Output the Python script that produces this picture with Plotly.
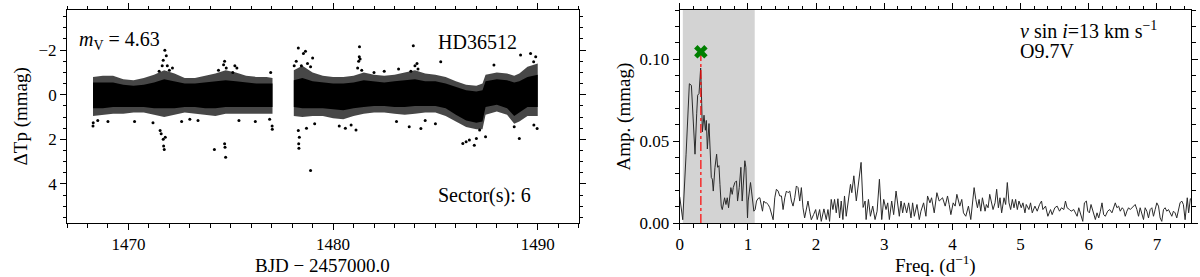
import plotly.graph_objects as go

# ---------------- Light curve (left panel) ----------------
# dense band: time (BJD-2457000), core top/bottom, fringe top/bottom (mmag)
seg1_t = [1468.27, 1468.75, 1469.25, 1469.75, 1470.25, 1470.75, 1471.25, 1471.75, 1472.25,
          1472.75, 1473.25, 1473.75, 1474.25, 1474.75, 1475.25, 1475.75, 1476.25, 1476.75, 1477.04]
seg1_core_top = [-0.55, -0.55, -0.55, -0.45, -0.40, -0.45, -0.55, -0.70, -0.60,
                 -0.50, -0.50, -0.55, -0.60, -0.65, -0.60, -0.55, -0.50, -0.50, -0.50]
seg1_core_bot = [0.60, 0.60, 0.55, 0.55, 0.55, 0.55, 0.60, 0.60, 0.60,
                 0.55, 0.55, 0.60, 0.60, 0.55, 0.55, 0.55, 0.55, 0.55, 0.55]
seg1_fr_top = [-0.80, -0.85, -0.85, -0.70, -0.65, -0.75, -0.90, -1.10, -0.95,
               -0.75, -0.75, -0.85, -0.95, -1.10, -1.00, -0.85, -0.80, -0.80, -0.75]
seg1_fr_bot = [0.95, 0.90, 0.85, 0.85, 0.80, 0.80, 0.90, 1.00, 0.90,
               0.80, 0.85, 0.90, 0.95, 0.85, 0.85, 0.85, 0.85, 0.85, 0.85]

seg2_t = [1478.08, 1478.5, 1479.0, 1479.5, 1480.0, 1480.5, 1481.0, 1481.5, 1482.0, 1482.5,
          1483.0, 1483.5, 1484.0, 1484.5, 1485.0, 1485.5, 1486.0, 1486.5, 1487.0, 1487.3,
          1487.45, 1488.0, 1488.5, 1488.85, 1489.1, 1489.5, 1490.0]
seg2_core_top = [-0.65, -0.75, -0.60, -0.55, -0.50, -0.50, -0.55, -0.65, -0.60, -0.55,
                 -0.60, -0.65, -0.70, -0.60, -0.60, -0.50, -0.35, -0.20, -0.15, -0.20,
                 -0.60, -0.70, -0.65, -0.55, -0.60, -0.80, -0.90]
seg2_core_bot = [0.55, 0.60, 0.60, 0.60, 0.65, 0.70, 0.60, 0.55, 0.50, 0.50,
                 0.55, 0.55, 0.50, 0.50, 0.50, 0.60, 0.90, 1.15, 1.25, 1.20,
                 0.55, 0.45, 0.60, 0.95, 0.80, 0.55, 0.55]
seg2_fr_top = [-1.10, -1.30, -1.00, -0.85, -0.80, -0.80, -0.85, -1.00, -0.90, -0.85,
               -0.90, -1.00, -1.10, -0.95, -0.90, -0.80, -0.60, -0.45, -0.40, -0.50,
               -0.90, -1.00, -0.95, -0.85, -0.95, -1.25, -1.40]
seg2_fr_bot = [0.95, 1.00, 0.95, 0.95, 1.05, 1.10, 0.95, 0.85, 0.80, 0.80,
               0.85, 0.90, 0.85, 0.80, 0.80, 0.95, 1.20, 1.45, 1.55, 1.55,
               0.90, 0.75, 0.90, 1.30, 1.20, 0.95, 0.95]

# individual scattered points
out_t = [1468.27, 1468.28, 1468.5, 1469.0, 1470.3, 1471.2, 1471.5, 1471.55, 1471.6, 1471.65,
         1471.7, 1471.7, 1471.72, 1471.75, 1471.78, 1471.8, 1471.85, 1471.9, 1472.0, 1472.15,
         1472.6, 1473.0, 1473.4, 1474.2, 1474.4, 1474.65, 1474.7, 1474.7, 1474.72, 1474.75,
         1474.78, 1475.1, 1475.2, 1475.3, 1475.4, 1476.2, 1476.9, 1476.95, 1477.02, 1477.03,
         1478.1, 1478.2, 1478.3, 1478.3, 1478.32, 1478.33, 1478.35, 1478.45, 1478.55, 1478.65,
         1478.7, 1478.75, 1478.9, 1478.9, 1479.0, 1479.1, 1480.3, 1480.6, 1480.88, 1481.12,
         1481.2, 1481.25, 1481.28, 1481.29, 1481.32, 1481.4, 1482.0, 1482.5, 1483.1, 1483.2,
         1483.72, 1483.8, 1483.92, 1484.0, 1484.1, 1484.15, 1484.29, 1484.5, 1485.0, 1485.26,
         1486.34, 1486.5, 1486.66, 1486.9, 1487.0, 1487.16, 1487.45, 1487.86, 1488.85, 1489.1,
         1489.16, 1489.65, 1489.8, 1489.81, 1489.9, 1489.97]
out_v = [1.40, 1.25, 1.15, 1.20, 1.20, 1.25, -1.05, 1.60, 1.75, -1.30,
         2.00, -1.55, 2.30, 2.45, -2.00, 1.90, -1.75, -1.30, -1.10, -1.20,
         1.20, 1.10, 1.15, 2.45, -1.10, -1.35, 2.20, -1.50, 2.35, 2.80,
         -1.20, -1.00, -1.30, -1.20, 1.15, 1.20, 1.10, -1.00, 1.40, 1.55,
         -1.30, -1.50, -2.10, 1.60, 2.20, 2.40, 1.90, -1.30, -1.85, -1.95,
         1.50, -1.40, -1.25, 3.40, -1.65, 1.30, 1.40, 1.50, 1.36, 1.58,
         -1.20, -1.50, -1.70, -2.15, -1.60, -1.10, -1.00, -1.05, 1.20, -1.15,
         1.43, -1.05, -2.20, -1.30, -1.40, -1.15, 1.51, 1.15, 1.30, -1.48,
         2.18, 2.11, 2.03, 2.26, 1.96, 1.58, 1.88, -1.33, 1.43, 1.96,
         -1.78, -1.85, -1.48, 1.36, -1.70, 1.51]

# ---------------- Amplitude spectrum (right panel) ----------------
freq = [0.000, 0.044, 0.093, 0.141, 0.171, 0.200, 0.224, 0.249, 0.263, 0.283, 0.307, 0.322, 0.332,
        0.356, 0.376, 0.390, 0.405, 0.429, 0.443, 0.463, 0.478, 0.492, 0.517, 0.541, 0.556, 0.575,
        0.590, 0.609, 0.624, 0.639, 0.658, 0.678, 0.697, 0.716, 0.736, 0.750, 0.770, 0.785, 0.809,
        0.833, 0.848, 0.873, 0.897, 0.916, 0.931, 0.955, 0.970, 0.994, 1.004, 1.019, 1.038, 1.053,
        1.067, 1.087, 1.106, 1.126, 1.150, 1.175, 1.199, 1.214, 1.233, 1.253, 1.272, 1.297, 1.321,
        1.345, 1.370, 1.394, 1.418, 1.443, 1.467, 1.492, 1.516, 1.541, 1.565, 1.589, 1.614, 1.638,
        1.662, 1.687, 1.711, 1.735, 1.760, 1.784, 1.808, 1.832, 1.857, 1.881, 1.906, 1.930, 1.964,
        1.994, 2.017, 2.052, 2.076, 2.115, 2.149, 2.174, 2.198, 2.222, 2.247, 2.271, 2.296, 2.320,
        2.345, 2.369, 2.393, 2.417, 2.442, 2.476, 2.505, 2.524, 2.554, 2.590, 2.660, 2.690, 2.719,
        2.734, 2.768, 2.797, 2.831, 2.865, 2.895, 2.929, 2.963, 2.992, 3.026, 3.051, 3.075, 3.109,
        3.138, 3.173, 3.197, 3.221, 3.246, 3.270, 3.294, 3.329, 3.358, 3.392, 3.416, 3.441, 3.480,
        3.514, 3.538, 3.577, 3.611, 3.635, 3.670, 3.694, 3.733, 3.772, 3.806, 3.855, 3.894, 3.928,
        3.952, 3.977, 4.011, 4.040, 4.065, 4.089, 4.108, 4.137, 4.162, 4.196, 4.235, 4.269, 4.294,
        4.318, 4.343, 4.367, 4.391, 4.416, 4.440, 4.479, 4.498, 4.523, 4.547, 4.571, 4.596, 4.625,
        4.649, 4.674, 4.698, 4.722, 4.757, 4.781, 4.805, 4.830, 4.854, 4.879, 4.903, 4.927, 4.952,
        4.976, 5.010, 5.034, 5.064, 5.083, 5.122, 5.146, 5.171, 5.210, 5.244, 5.278, 5.307, 5.327,
        5.366, 5.400, 5.439, 5.463, 5.502, 5.536, 5.571, 5.600, 5.634, 5.658, 5.682, 5.717, 5.741,
        5.780, 5.804, 5.829, 5.853, 5.887, 5.912, 5.936, 5.965, 5.985, 6.009, 6.033, 6.058, 6.072,
        6.097, 6.121, 6.146, 6.170, 6.194, 6.218, 6.243, 6.277, 6.306, 6.340, 6.365, 6.389, 6.413,
        6.438, 6.462, 6.491, 6.511, 6.535, 6.559, 6.584, 6.608, 6.633, 6.657, 6.681, 6.706, 6.730,
        6.754, 6.779, 6.803, 6.827, 6.852, 6.876, 6.901, 6.925, 6.949, 6.974, 6.998, 7.023, 7.047,
        7.071, 7.096, 7.120, 7.144, 7.169, 7.193, 7.218, 7.242, 7.266, 7.291, 7.315, 7.339, 7.364,
        7.388, 7.413, 7.445, 7.465, 7.490, 7.500]
amp = [0.0160, 0.0020, 0.0420, 0.0850, 0.0840, 0.0630, 0.0420, 0.0670, 0.0780, 0.0790, 0.0946, 0.0730, 0.0556,
       0.0658, 0.0566, 0.0626, 0.0452, 0.0607, 0.0463, 0.0278, 0.0268, 0.0195, 0.0340, 0.0420, 0.0340, 0.0350,
       0.0236, 0.0103, 0.0082, 0.0123, 0.0154, 0.0113, 0.0154, 0.0093, 0.0195, 0.0216, 0.0175, 0.0216, 0.0247,
       0.0257, 0.0134, 0.0216, 0.0340, 0.0134, 0.0226, 0.0380, 0.0340, 0.0031, 0.0134, 0.0175, 0.0247, 0.0195,
       0.0123, 0.0072, 0.0082, 0.0134, 0.0150, 0.0154, 0.0103, 0.0072, 0.0134, 0.0123, 0.0123, 0.0113, 0.0093,
       0.0062, 0.0020, 0.0154, 0.0206, 0.0195, 0.0165, 0.0165, 0.0082, 0.0154, 0.0195, 0.0185, 0.0195, 0.0134,
       0.0103, 0.0154, 0.0226, 0.0216, 0.0134, 0.0216, 0.0093, 0.0031, 0.0093, 0.0134, 0.0072, 0.0020, 0.0052,
       0.0082, 0.0021, 0.0082, 0.0010, 0.0086, 0.0021, 0.0082, 0.0010, 0.0144, 0.0082, 0.0144, 0.0062, 0.0148,
       0.0031, 0.0134, 0.0021, 0.0165, 0.0041, 0.0134, 0.0236, 0.0185, 0.0288, 0.0135, 0.0370, 0.0095, 0.0134,
       0.0021, 0.0144, 0.0041, 0.0103, 0.0021, 0.0072, 0.0267, 0.0021, 0.0144, 0.0082, 0.0123, 0.0021, 0.0134,
       0.0051, 0.0195, 0.0103, 0.0041, 0.0134, 0.0062, 0.0123, 0.0062, 0.0123, 0.0031, 0.0123, 0.0041, 0.0113,
       0.0021, 0.0072, 0.0123, 0.0041, 0.0165, 0.0123, 0.0154, 0.0062, 0.0185, 0.0134, 0.0154, 0.0103, 0.0165,
       0.0113, 0.0051, 0.0123, 0.0103, 0.0175, 0.0134, 0.0103, 0.0144, 0.0062, 0.0041, 0.0103, 0.0021, 0.0103,
       0.0216, 0.0144, 0.0093, 0.0144, 0.0072, 0.0154, 0.0072, 0.0113, 0.0093, 0.0175, 0.0123, 0.0082, 0.0123,
       0.0206, 0.0093, 0.0154, 0.0062, 0.0154, 0.0113, 0.0247, 0.0123, 0.0082, 0.0144, 0.0093, 0.0144, 0.0082,
       0.0134, 0.0093, 0.0123, 0.0062, 0.0113, 0.0082, 0.0123, 0.0062, 0.0103, 0.0072, 0.0113, 0.0134, 0.0082,
       0.0103, 0.0041, 0.0082, 0.0051, 0.0093, 0.0103, 0.0072, 0.0093, 0.0082, 0.0134, 0.0093, 0.0082, 0.0072,
       0.0082, 0.0062, 0.0041, 0.0093, 0.0051, 0.0010, 0.0123, 0.0134, 0.0072, 0.0062, 0.0113, 0.0082, 0.0062,
       0.0021, 0.0062, 0.0031, 0.0072, 0.0123, 0.0051, 0.0041, 0.0072, 0.0082, 0.0062, 0.0093, 0.0123, 0.0093,
       0.0103, 0.0072, 0.0093, 0.0082, 0.0041, 0.0072, 0.0093, 0.0082, 0.0093, 0.0103, 0.0113, 0.0082, 0.0041,
       0.0093, 0.0051, 0.0021, 0.0093, 0.0072, 0.0031, 0.0082, 0.0093, 0.0041, 0.0082, 0.0123, 0.0103, 0.0031,
       0.0010, 0.0082, 0.0093, 0.0072, 0.0082, 0.0062, 0.0041, 0.0072, 0.0062, 0.0031, 0.0072, 0.0123, 0.0134,
       0.0113, 0.0020, 0.0154, 0.0062, 0.0148, 0.0145]

shade_lo, shade_hi = 0.045, 1.10
peak_freq, peak_amp = 0.31, 0.1045

mv_text = "<i>m</i><sub>V</sub> = 4.63"
star_name = "HD36512"
sector_text = "Sector(s): 6"
vsini_text = "<i>v</i> sin <i>i</i>=13 km s<sup>−1</sup>"
sptype = "O9.7V"

FONT = "Liberation Serif"
fig = go.Figure()


def band(t, top, bot, color, xa, ya):
    return go.Scatter(x=list(t) + list(t)[::-1], y=list(top) + list(bot)[::-1],
                      fill="toself", fillcolor=color, mode="lines", line=dict(width=0),
                      hoverinfo="skip", showlegend=False, xaxis=xa, yaxis=ya)


for t, ft, fb, ct, cb in [(seg1_t, seg1_fr_top, seg1_fr_bot, seg1_core_top, seg1_core_bot),
                          (seg2_t, seg2_fr_top, seg2_fr_bot, seg2_core_top, seg2_core_bot)]:
    fig.add_trace(band(t, ft, fb, "rgba(0,0,0,0.72)", "x", "y"))
    fig.add_trace(band(t, ct, cb, "black", "x", "y"))

fig.add_trace(go.Scatter(x=out_t, y=out_v, mode="markers",
                         marker=dict(size=3, color="black"), showlegend=False,
                         xaxis="x", yaxis="y"))

# right panel
fig.add_trace(go.Scatter(x=freq, y=amp, mode="lines", line=dict(color="#2a2a2a", width=1),
                         showlegend=False, xaxis="x2", yaxis="y2"))
fig.add_trace(go.Scatter(x=[peak_freq, peak_freq], y=[0, peak_amp - 0.0015], mode="lines",
                         line=dict(color="red", width=1.2, dash="dashdot"),
                         showlegend=False, xaxis="x2", yaxis="y2"))
fig.add_trace(go.Scatter(x=[peak_freq], y=[peak_amp], mode="markers",
                         marker=dict(symbol="x", size=12, color="green", line=dict(width=0)),
                         showlegend=False, xaxis="x2", yaxis="y2"))

fig.add_shape(type="rect", xref="x2", yref="y2 domain", x0=shade_lo, x1=shade_hi, y0=0, y1=1,
              fillcolor="#d3d3d3", line=dict(width=0), layer="below")

axis_common = dict(showline=True, linecolor="black", linewidth=1, mirror="allticks",
                   ticks="outside", ticklen=6, tickwidth=1, tickcolor="black",
                   showgrid=False, zeroline=False,
                   tickfont=dict(family=FONT, size=17, color="black"))

fig.update_layout(
    width=1200, height=277,
    margin=dict(l=0, r=0, t=10, b=54),
    paper_bgcolor="white", plot_bgcolor="white",
    xaxis=dict(domain=[0.0527, 0.4805], range=[1467, 1492], tick0=1470, dtick=10,
               minor=dict(dtick=1, ticklen=3.5, ticks="outside", tickcolor="black"),
               anchor="y", **axis_common),
    yaxis=dict(domain=[0, 1], range=[5.75, -3.8], tick0=0, dtick=2,
               minor=dict(dtick=0.5, ticklen=3.5, ticks="outside", tickcolor="black"),
               anchor="x", **axis_common),
    xaxis2=dict(domain=[0.565, 0.9925], range=[0, 7.5], tick0=0, dtick=1,
                minor=dict(dtick=0.2, ticklen=3.5, ticks="outside", tickcolor="black"),
                anchor="y2", **axis_common),
    yaxis2=dict(domain=[0, 1], range=[0, 0.13], tick0=0, dtick=0.05, tickformat=".2f",
                minor=dict(dtick=0.01, ticklen=3.5, ticks="outside", tickcolor="black"),
                anchor="x2", **axis_common),
)

ann_font = dict(family=FONT, size=20, color="black")
title_font = dict(family=FONT, size=19, color="black")


def ypx(p):
    return (223 - p) / 213.0


anns = [
    dict(text=mv_text, x=73 / 1200, y=ypx(40), xanchor="left", yanchor="middle", font=ann_font),
    dict(text=star_name, x=433 / 1200, y=ypx(42), xanchor="left", yanchor="middle", font=ann_font),
    dict(text=sector_text, x=433 / 1200, y=ypx(195), xanchor="left", yanchor="middle", font=ann_font),
    dict(text=vsini_text, x=1017 / 1200, y=ypx(30), xanchor="left", yanchor="middle", font=ann_font),
    dict(text=sptype, x=1017 / 1200, y=ypx(51), xanchor="left", yanchor="middle", font=ann_font),
    dict(text="BJD − 2457000.0", x=320 / 1200, y=ypx(265), xanchor="center", yanchor="middle",
         font=title_font),
    dict(text="Freq. (d<sup>−1</sup>)", x=935 / 1200, y=ypx(264), xanchor="center",
         yanchor="middle", font=title_font),
    dict(text="ΔTp (mmag)", x=17 / 1200, y=0.5, xanchor="center", yanchor="middle",
         textangle=-90, font=title_font),
    dict(text="Amp. (mmag)", x=622 / 1200, y=0.5, xanchor="center", yanchor="middle",
         textangle=-90, font=title_font),
]
for a in anns:
    fig.add_annotation(xref="paper", yref="paper", showarrow=False, **a)

fig.write_html("out.html", config={"displayModeBar": False},
               post_script="document.body.style.margin='0';document.body.style.padding='0';"
                           "document.body.style.overflow='hidden';")
